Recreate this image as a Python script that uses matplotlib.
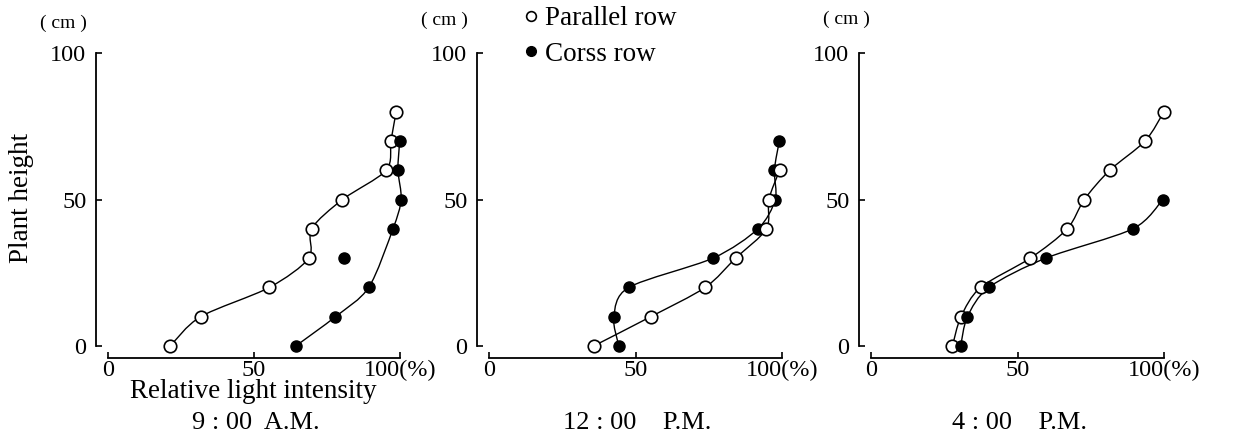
import matplotlib
matplotlib.use("Agg")
import matplotlib.pyplot as plt
from matplotlib.path import Path
from matplotlib.patches import PathPatch
from matplotlib.lines import Line2D
import numpy as np

plt.rcParams["font.family"] = ["Liberation Serif", "DejaVu Serif"]

# ---- data: relative light intensity (%) at each plant height (cm) --------
heights_par_9 = [0, 10, 20, 30, 40, 50, 60, 70, 80]
light_par_9 = [21.3, 31.7, 55.3, 68.8, 69.7, 80.3, 95.3, 96.9, 98.7]
heights_crs_9 = [0, 10, 20, 30, 40, 50, 60, 70]
light_crs_9 = [64.3, 77.9, 89.3, 80.8, 97.6, 100.4, 99.3, 99.9]
on_curve_crs_9 = [True, True, True, False, True, True, True, True]

heights_par_12 = [0, 10, 20, 30, 40, 50, 60]
light_par_12 = [35.7, 55.2, 73.8, 84.2, 94.7, 95.5, 99.2]
heights_crs_12 = [0, 10, 20, 30, 40, 50, 60, 70]
light_crs_12 = [44.3, 42.6, 47.7, 76.5, 91.8, 97.7, 97.4, 99.1]

heights_par_4 = [0, 10, 20, 30, 40, 50, 60, 70, 80]
light_par_4 = [27.8, 30.7, 37.4, 54.4, 67.0, 72.8, 81.5, 93.6, 100.0]
heights_crs_4 = [0, 10, 20, 30, 40, 50]
light_crs_4 = [30.6, 32.9, 40.2, 59.7, 89.4, 99.6]

time_labels = ["9 : 00  A.M.", "12 : 00    P.M.", "4 : 00    P.M."]
series_labels = ["Parallel row", "Corss row"]
x_ticklabels = ["0", "50", "100(%)"]
y_ticklabels = ["0", "50", "100"]


def smooth_path(xs, ys):
    """Catmull-Rom curve through the points, as cubic Bezier segments."""
    p = np.column_stack([xs, ys]).astype(float)
    ext = np.vstack([p[0], p, p[-1]])
    verts, codes = [p[0]], [Path.MOVETO]
    for i in range(1, len(ext) - 2):
        p0, p1, p2, p3 = ext[i - 1], ext[i], ext[i + 1], ext[i + 2]
        verts += [p1 + (p2 - p0) / 7, p2 - (p3 - p1) / 7, p2]
        codes += [Path.CURVE4] * 3
    return Path(verts, codes)


W, H = 1236, 437
fig = plt.figure(figsize=(W / 100, H / 100), dpi=100)

panels = [
    (light_par_9, heights_par_9, light_crs_9, heights_crs_9, on_curve_crs_9),
    (light_par_12, heights_par_12, light_crs_12, heights_crs_12, None),
    (light_par_4, heights_par_4, light_crs_4, heights_crs_4, None),
]
lefts = [108, 489, 871]
widths = [292, 293, 293]
y0_px, y100_px = 346, 53
cm_x = [63, 444, 846]
cm_y = [23, 20, 19]
open_on_top = [False, True, False]

axes = []
for i, (xp, yp, xc, yc, mask) in enumerate(panels):
    ax = fig.add_axes([lefts[i] / W, 1 - y0_px / H, widths[i] / W,
                       (y0_px - y100_px) / H])
    ax.patch.set_visible(False)
    ax.set_xlim(0, 100)
    ax.set_ylim(0, 100)
    for s in ("top", "right"):
        ax.spines[s].set_visible(False)
    for s in ("left", "bottom"):
        ax.spines[s].set_position(("outward", 8.6))
        ax.spines[s].set_bounds(0, 100)
        ax.spines[s].set_linewidth(1.3)
    ax.set_xticks([0, 50, 100])
    ax.set_xticklabels(x_ticklabels)
    ax.set_yticks([0, 50, 100])
    ax.set_yticklabels(y_ticklabels)
    ax.tick_params(direction="in", length=4, width=1.2, labelsize=17.5)
    ax.tick_params(axis="y", pad=7)
    ax.tick_params(axis="x", pad=1.5)

    # curves
    ax.add_patch(PathPatch(smooth_path(xp, yp), fc="none", ec="black",
                           lw=1.0, clip_on=False, zorder=2))
    if mask is None:
        cx, cy = xc, yc
    else:
        cx = [v for v, m in zip(xc, mask) if m]
        cy = [v for v, m in zip(yc, mask) if m]
    ax.add_patch(PathPatch(smooth_path(cx, cy), fc="none", ec="black",
                           lw=1.0, clip_on=False, zorder=2))

    zo = (4, 3) if open_on_top[i] else (3, 4)
    ax.plot(xp, yp, ls="none", marker="o", ms=9.0, mfc="white", mec="black",
            mew=1.2, clip_on=False, zorder=zo[0])
    ax.plot(xc, yc, ls="none", marker="o", ms=8.0, mfc="black", mec="black",
            mew=1.0, clip_on=False, zorder=zo[1])

    fig.text(cm_x[i] / W, 1 - cm_y[i] / H, "( cm )", ha="center",
             va="center", fontsize=14)
    fig.text((lefts[i] + widths[i] / 2 + 2) / W, 1 - 423 / H, time_labels[i],
             ha="center", va="center", fontsize=19)
    axes.append(ax)

fig.text(22 / W, 1 - 198 / H, "Plant height", rotation=90, ha="center",
         va="center", fontsize=19.5)
fig.text(253 / W, 1 - 392 / H, "Relative light intensity", ha="center",
         va="center", fontsize=19.5)

handles = [
    Line2D([], [], ls="none", marker="o", ms=7, mfc="white", mec="black",
           mew=1.2),
    Line2D([], [], ls="none", marker="o", ms=7, mfc="black", mec="black"),
]
fig.legend(handles, series_labels, loc="upper left",
           bbox_to_anchor=(523 / W, 1 - 6 / H), frameon=False, fontsize=19.5,
           handlelength=0.6, handletextpad=0.2, borderpad=0, borderaxespad=0,
           labelspacing=0.4)

fig.savefig("out.png", dpi=100)
